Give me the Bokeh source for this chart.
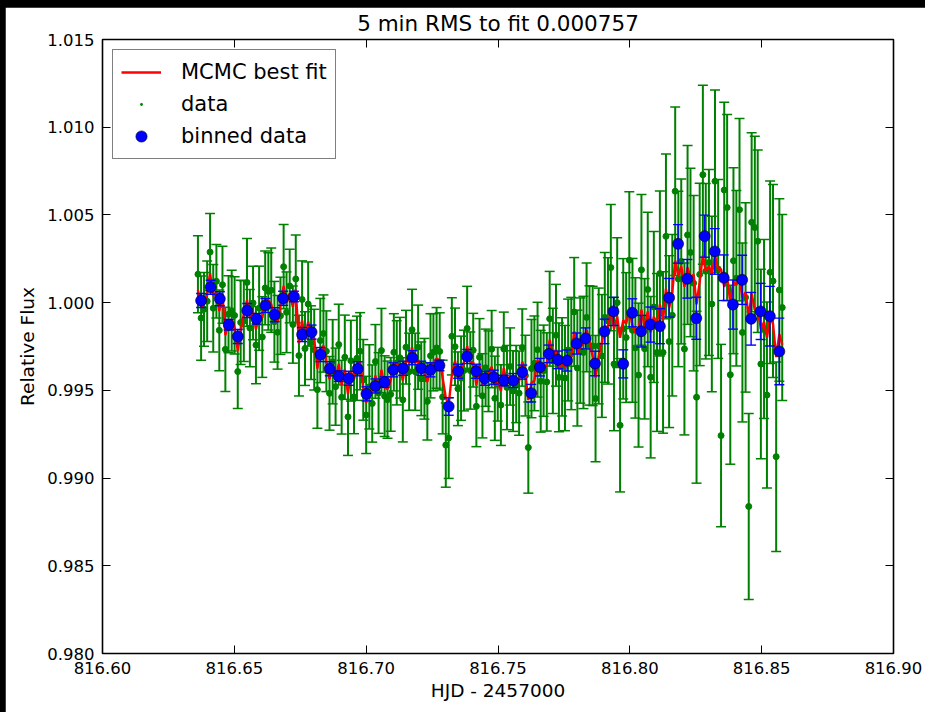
import math
from bokeh.plotting import figure
from bokeh.models import (ColumnDataSource, FixedTicker, LinearAxis, Legend, LegendItem,
                          PrintfTickFormatter, Range1d)
from bokeh.embed import file_html
from bokeh.resources import INLINE

# ---------------- data ----------------
title_text = "5 min RMS to fit 0.000757"
x_label = "HJD - 2457000"
y_label = "Relative Flux"
x_ticks = [816.60, 816.65, 816.70, 816.75, 816.80, 816.85, 816.90]
y_ticks = [0.980, 0.985, 0.990, 0.995, 1.000, 1.005, 1.010, 1.015]

hjd = [
    816.6362, 816.6374, 816.6385, 816.6397, 816.6408, 816.6420, 816.6432, 816.6443, 816.6455,
    816.6466, 816.6478, 816.6490, 816.6501, 816.6513, 816.6524, 816.6536, 816.6548, 816.6559,
    816.6571, 816.6582, 816.6594, 816.6606, 816.6617, 816.6629, 816.6640, 816.6652, 816.6664,
    816.6675, 816.6687, 816.6698, 816.6710, 816.6722, 816.6733, 816.6745, 816.6757, 816.6768,
    816.6780, 816.6791, 816.6803, 816.6815, 816.6826, 816.6838, 816.6849, 816.6861, 816.6873,
    816.6884, 816.6896, 816.6907, 816.6919, 816.6931, 816.6942, 816.6954, 816.6965, 816.6977,
    816.6989, 816.7000, 816.7012, 816.7023, 816.7035, 816.7047, 816.7058, 816.7070, 816.7081,
    816.7093, 816.7105, 816.7116, 816.7128, 816.7139, 816.7151, 816.7163, 816.7174, 816.7186,
    816.7197, 816.7209, 816.7221, 816.7232, 816.7244, 816.7255, 816.7267, 816.7279, 816.7290,
    816.7302, 816.7313, 816.7325, 816.7337, 816.7348, 816.7360, 816.7371, 816.7383, 816.7395,
    816.7406, 816.7418, 816.7430, 816.7441, 816.7453, 816.7464, 816.7476, 816.7488, 816.7499,
    816.7511, 816.7522, 816.7534, 816.7546, 816.7557, 816.7569, 816.7580, 816.7592, 816.7604,
    816.7615, 816.7627, 816.7638, 816.7650, 816.7662, 816.7673, 816.7685, 816.7696, 816.7708,
    816.7720, 816.7731, 816.7743, 816.7754, 816.7766, 816.7778, 816.7789, 816.7801, 816.7812,
    816.7824, 816.7836, 816.7847, 816.7859, 816.7870, 816.7882, 816.7894, 816.7905, 816.7917,
    816.7928, 816.7940, 816.7952, 816.7963, 816.7975, 816.7986, 816.7998, 816.8010, 816.8021,
    816.8033, 816.8044, 816.8056, 816.8068, 816.8079, 816.8091, 816.8103, 816.8114, 816.8126,
    816.8137, 816.8149, 816.8161, 816.8172, 816.8184, 816.8195, 816.8207, 816.8219, 816.8230,
    816.8242, 816.8253, 816.8265, 816.8277, 816.8288, 816.8300, 816.8311, 816.8323, 816.8335,
    816.8346, 816.8358, 816.8369, 816.8381, 816.8393, 816.8404, 816.8416, 816.8427, 816.8439,
    816.8451, 816.8462, 816.8474, 816.8485, 816.8497, 816.8509, 816.8520, 816.8532, 816.8543,
    816.8555, 816.8567, 816.8578,
]

flux = [
    1.00162, 0.99912, 0.99962, 1.00008, 1.00288, 0.99968, 1.00122, 0.99842, 1.00102,
    0.99734, 0.99934, 0.99954, 0.99927, 0.99607, 0.99887, 0.99895, 1.00115, 0.99855,
    0.99998, 0.99758, 0.99968, 0.99804, 1.00084, 1.00064, 1.00071, 0.99891, 0.99831,
    0.99925, 1.00205, 0.99945, 1.00095, 0.99875, 1.00135, 0.99698, 1.00018, 0.99738,
    0.99992, 0.99772, 0.99732, 0.99504, 0.99784, 0.99824, 0.99723, 0.99483, 0.99663,
    0.99521, 0.99761, 0.99461, 0.99689, 0.99349, 0.99669, 0.99463, 0.99683, 0.99723,
    0.99560, 0.99360, 0.99520, 0.99425, 0.99665, 0.99485, 0.99727, 0.99467, 0.99447,
    0.99477, 0.99717, 0.99657, 0.99686, 0.99446, 0.99746, 0.99606, 0.99846, 0.99606,
    0.99746, 0.99566, 0.99566, 0.99437, 0.99697, 0.99717, 0.99742, 0.99722, 0.99462,
    0.99188, 0.99228, 0.99808, 0.99749, 0.99509, 0.99569, 0.99613, 0.99853, 0.99613,
    0.99729, 0.99409, 0.99689, 0.99469, 0.99629, 0.99609, 0.99735, 0.99455, 0.99535,
    0.99416, 0.99736, 0.99516, 0.99636, 0.99496, 0.99536, 0.99484, 0.99744, 0.99584,
    0.99174, 0.99624, 0.99654, 0.99732, 0.99552, 0.99612, 0.99548, 0.99908, 0.99668,
    0.99814, 0.99574, 0.99634, 0.99570, 0.99730, 0.99710, 0.99947, 0.99627, 0.99727,
    0.99716, 0.99916, 0.99756, 0.99753, 0.99453, 0.99753, 0.99696, 0.99916, 0.99896,
    1.00200, 0.99650, 1.00000, 0.99301, 0.99851, 0.99801, 1.00242, 0.99842, 0.99742,
    0.99587, 1.00187, 0.99737, 1.00075, 0.99575, 0.99975, 0.99716, 1.00166, 0.99716,
    1.00378, 0.99778, 0.99928, 1.00635, 1.00135, 1.00235, 0.99736, 1.00386, 1.00286,
    1.00111, 0.99461, 1.00161, 1.00729, 1.00179, 1.00229, 0.99992, 1.00692, 1.00192,
    0.99242, 1.00642, 1.00542, 0.99589, 1.00239, 1.00139, 1.00530, 0.99830, 1.00030,
    0.98838, 1.00458, 1.00428, 1.00350, 0.99650, 0.99850, 0.99473, 1.00173, 1.00123,
    0.99122, 1.00072, 0.99972,
]

flux_err = [
    .0022, .0024, .0021, .0023, .0022, .0025, .0021, .0023, .0022,
    .0024, .0022, .0023, .0022, .0021, .0024, .0023, .0025, .0022,
    .0021, .0022, .0024, .0023, .0021, .0022, .0024, .0023, .0021,
    .0022, .0024, .0023, .0021, .0022, .0025, .0023, .0022, .0021,
    .0024, .0021, .0023, .0022, .0024, .0022, .0023, .0021, .0024,
    .0022, .0023, .0021, .0024, .0022, .0023, .0021, .0024, .0022,
    .0023, .0022, .0024, .0022, .0021, .0023, .0024, .0023, .0022,
    .0021, .0022, .0024, .0023, .0024, .0021, .0022, .0023, .0022,
    .0024, .0021, .0023, .0022, .0024, .0022, .0023, .0022, .0021,
    .0024, .0023, .0022, .0022, .0021, .0024, .0023, .0024, .0022,
    .0021, .0023, .0022, .0024, .0022, .0023, .0022, .0024, .0021,
    .0023, .0021, .0024, .0022, .0023, .0022, .0024, .0022, .0023,
    .0026, .0028, .0027, .0027, .0029, .0026, .0028, .0027, .0030,
    .0029, .0031, .0028, .0030, .0029, .0032, .0031, .0033, .0030,
    .0032, .0031, .0034, .0034, .0036, .0033, .0035, .0037, .0036,
    .0036, .0038, .0037, .0038, .0040, .0037, .0039, .0041, .0040,
    .0041, .0043, .0040, .0044, .0046, .0043, .0045, .0047, .0046,
    .0047, .0049, .0046, .0048, .0050, .0047, .0049, .0051, .0048,
    .0050, .0049, .0052, .0051, .0050, .0053, .0050, .0052, .0051,
    .0052, .0050, .0053, .0051, .0053, .0050, .0052, .0051, .0054,
    .0053, .0051, .0052, .0052, .0054, .0051, .0053, .0052, .0055,
    .0054, .0052, .0053,
]

mcmc_fit = [
    1.00072, 0.99972, 0.99992, 1.00058, 1.00168, 1.00038, 1.00062, 0.99952, 1.00052,
    0.99814, 0.99894, 0.99904, 0.99857, 0.99727, 0.99837, 0.99935, 1.00015, 0.99915,
    0.99948, 0.99848, 0.99928, 0.99914, 1.00024, 1.00014, 0.99991, 0.99911, 0.99891,
    0.99985, 1.00095, 0.99995, 1.00055, 0.99975, 1.00075, 0.99768, 0.99898, 0.99788,
    0.99892, 0.99812, 0.99792, 0.99624, 0.99734, 0.99754, 0.99663, 0.99563, 0.99643,
    0.99561, 0.99651, 0.99531, 0.99619, 0.99479, 0.99609, 0.99563, 0.99643, 0.99663,
    0.99510, 0.99430, 0.99500, 0.99485, 0.99585, 0.99505, 0.99617, 0.99517, 0.99507,
    0.99557, 0.99657, 0.99637, 0.99646, 0.99556, 0.99676, 0.99656, 0.99746, 0.99656,
    0.99676, 0.99606, 0.99606, 0.99547, 0.99647, 0.99657, 0.99682, 0.99672, 0.99572,
    0.99458, 0.99418, 0.99588, 0.99669, 0.99569, 0.99589, 0.99663, 0.99753, 0.99663,
    0.99659, 0.99529, 0.99639, 0.99529, 0.99589, 0.99589, 0.99635, 0.99525, 0.99555,
    0.99496, 0.99626, 0.99536, 0.99586, 0.99536, 0.99546, 0.99554, 0.99664, 0.99594,
    0.99444, 0.99544, 0.99554, 0.99672, 0.99602, 0.99622, 0.99648, 0.99788, 0.99688,
    0.99734, 0.99634, 0.99654, 0.99630, 0.99690, 0.99690, 0.99837, 0.99707, 0.99747,
    0.99766, 0.99846, 0.99776, 0.99693, 0.99573, 0.99693, 0.99776, 0.99866, 0.99856,
    0.99960, 0.99850, 0.99920, 0.99800, 0.99900, 0.99880, 0.99960, 0.99870, 0.99830,
    0.99840, 0.99960, 0.99860, 0.99950, 0.99830, 0.99920, 0.99880, 0.99990, 0.99900,
    1.00080, 0.99970, 1.00060, 1.00240, 1.00150, 1.00210, 1.00090, 1.00200, 1.00140,
    1.00160, 0.99990, 1.00120, 1.00270, 1.00180, 1.00210, 1.00160, 1.00270, 1.00190,
    1.00190, 1.00090, 1.00150, 1.00000, 1.00120, 1.00100, 1.00140, 1.00030, 1.00060,
    0.99920, 1.00050, 0.99960, 0.99970, 0.99850, 0.99890, 0.99800, 0.99920, 0.99880,
    0.99690, 0.99820, 0.99760,
]

bin_hjd = [
    816.6374, 816.6410, 816.6445, 816.6479, 816.6513, 816.6549, 816.6584, 816.6618,
    816.6653, 816.6685, 816.6726, 816.6757, 816.6793, 816.6827, 816.6862, 816.6896,
    816.6934, 816.6968, 816.7001, 816.7035, 816.7070, 816.7103, 816.7140, 816.7175,
    816.7209, 816.7244, 816.7278, 816.7313, 816.7349, 816.7383, 816.7417, 816.7450,
    816.7484, 816.7522, 816.7558, 816.7592, 816.7626, 816.7659, 816.7693, 816.7727,
    816.7762, 816.7798, 816.7832, 816.7868, 816.7904, 816.7938, 816.7975, 816.8009,
    816.8043, 816.8078, 816.8114, 816.8149, 816.8183, 816.8218, 816.8252, 816.8284,
    816.8322, 816.8356, 816.8391, 816.8426, 816.8460, 816.8496, 816.8531, 816.8567,
]
bin_flux = [
    1.00012, 1.00088, 1.00022, 0.99874, 0.99807, 0.99955, 0.99908, 0.99984,
    0.99931, 1.00025, 1.00035, 0.99818, 0.99832, 0.99704, 0.99623, 0.99581,
    0.99569, 0.99623, 0.99480, 0.99525, 0.99547, 0.99617, 0.99626, 0.99686,
    0.99626, 0.99617, 0.99642, 0.99408, 0.99609, 0.99693, 0.99609, 0.99569,
    0.99575, 0.99556, 0.99556, 0.99604, 0.99484, 0.99632, 0.99708, 0.99674,
    0.99670, 0.99767, 0.99796, 0.99653, 0.99836, 0.99950, 0.99651, 0.99942,
    0.99837, 0.99875, 0.99866, 1.00028, 1.00335, 1.00136, 0.99911, 1.00379,
    1.00292, 1.00142, 0.99989, 1.00130, 0.99908, 0.99950, 0.99923, 0.99722,
]
bin_err = [
    .0004, .0004, .0004, .0003, .0004, .0004, .0003, .0004,
    .0004, .0004, .0003, .0004, .0004, .0004, .0004, .0003,
    .0004, .0004, .0004, .0004, .0003, .0004, .0004, .0004,
    .0004, .0004, .0003, .0005, .0004, .0004, .0004, .0004,
    .0004, .0003, .0004, .0004, .0005, .0005, .0005, .0005,
    .0006, .0006, .0006, .0007, .0007, .0008, .0008, .0008,
    .0009, .0010, .0010, .0011, .0011, .0011, .0012, .0012,
    .0013, .0013, .0014, .0014, .0015, .0016, .0017, .0019,
]

GREEN = "#008000"
BLUE = "#0000ff"
RED = "#ff0000"
FONT = "DejaVu Sans"

raw = ColumnDataSource(dict(
    x=hjd, y=flux,
    lo=[f - e for f, e in zip(flux, flux_err)],
    hi=[f + e for f, e in zip(flux, flux_err)],
))
binned = ColumnDataSource(dict(
    x=bin_hjd, y=bin_flux,
    lo=[f - e for f, e in zip(bin_flux, bin_err)],
    hi=[f + e for f, e in zip(bin_flux, bin_err)],
))
model = ColumnDataSource(dict(x=hjd, y=mcmc_fit))

p = figure(width=920, height=705,
           x_range=Range1d(x_ticks[0], x_ticks[-1]),
           y_range=Range1d(y_ticks[0], y_ticks[-1]),
           output_backend="svg", toolbar_location=None,
           min_border_left=97, min_border_right=32, min_border_top=32, min_border_bottom=59,
           background_fill_color="white", border_fill_color="white")
p.margin = (7, 0, 0, 5)

p.grid.visible = False
p.outline_line_color = "black"
p.outline_line_width = 1.6
p.outline_line_alpha = 1.0

p.title.text = title_text
p.title.align = "center"
p.title.vertical_align = "top"
p.title.standoff = 4
p.title.text_font = FONT
p.title.text_font_size = "21.5px"
p.title.text_font_style = "normal"
p.title.text_color = "black"

def style_axis(ax, ticks, fmt, standoff):
    ax.ticker = FixedTicker(ticks=ticks)
    ax.formatter = PrintfTickFormatter(format=fmt)
    ax.major_tick_in = 8
    ax.major_tick_out = 0
    ax.minor_tick_line_color = None
    ax.axis_line_color = None
    ax.major_tick_line_color = "black"
    ax.major_tick_line_width = 1
    ax.major_label_text_font = FONT
    ax.major_label_text_font_size = "16.5px"
    ax.major_label_text_color = "black"
    ax.major_label_standoff = standoff
    ax.axis_label_text_font = FONT
    ax.axis_label_text_font_size = "18.5px"
    ax.axis_label_text_font_style = "normal"
    ax.axis_label_text_color = "black"

style_axis(p.xaxis[0], x_ticks, "%.2f", 8)
style_axis(p.yaxis[0], y_ticks, "%.3f", 8)
p.xaxis[0].axis_label = x_label
p.xaxis[0].axis_label_standoff = 3
p.yaxis[0].axis_label = y_label
p.yaxis[0].axis_label_standoff = 6

# mirrored tick marks on the top and right edges (no labels)
top = LinearAxis()
right = LinearAxis()
for ax, ticks in ((top, x_ticks), (right, y_ticks)):
    style_axis(ax, ticks, "%.2f", 0)
    ax.major_label_text_font_size = "1px"
    ax.major_label_text_color = None
p.add_layout(top, "above")
p.add_layout(right, "right")

# green data with error bars
p.segment(x0="x", y0="lo", x1="x", y1="hi", source=raw, line_color=GREEN, line_width=2.0)
p.scatter(x="x", y="hi", source=raw, marker="dash", size=10, line_color=GREEN, line_width=1.5)
p.scatter(x="x", y="lo", source=raw, marker="dash", size=10, line_color=GREEN, line_width=1.5)
p.scatter(x="x", y="y", source=raw, marker="circle", size=6, fill_color=GREEN, line_color=GREEN)

# MCMC best fit
fit_r = p.line(x="x", y="y", source=model, line_color=RED, line_width=2.4)

# binned data
p.segment(x0="x", y0="lo", x1="x", y1="hi", source=binned, line_color=BLUE, line_width=1.4)
p.scatter(x="x", y="hi", source=binned, marker="dash", size=10, line_color=BLUE, line_width=1.4)
p.scatter(x="x", y="lo", source=binned, marker="dash", size=10, line_color=BLUE, line_width=1.4)
bin_r = p.scatter(x="x", y="y", source=binned, marker="circle", size=11,
                  fill_color=BLUE, line_color="black", line_width=0.6)

# legend-only handle for the raw data (not drawn in the plot area)
data_leg = p.scatter(x=[float("nan")], y=[float("nan")], marker="dot", size=6,
                     fill_color=GREEN, line_color=GREEN, line_width=3)

legend = Legend(items=[
    LegendItem(label="MCMC best fit", renderers=[fit_r]),
    LegendItem(label="data", renderers=[data_leg]),
    LegendItem(label="binned data", renderers=[bin_r]),
], location="top_left")
legend.border_line_color = "black"
legend.border_line_width = 1.2
legend.background_fill_color = "white"
legend.background_fill_alpha = 1.0
legend.label_text_font = FONT
legend.label_text_font_size = "21px"
legend.label_text_color = "black"
legend.glyph_width = 40
legend.glyph_height = 28
legend.label_height = 28
legend.spacing = 4
legend.padding = 8
legend.margin = 10
legend.label_standoff = 20
p.add_layout(legend)

html = file_html(p, INLINE, title="light curve")
html = html.replace("<body>", '<body style="background-color:#000000;">')
open("out.html", "w").write(html)
